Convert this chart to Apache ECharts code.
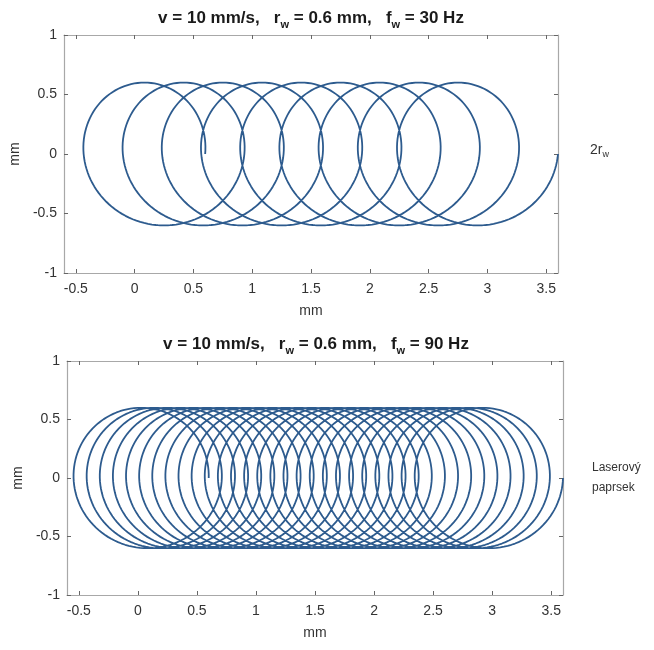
<!DOCTYPE html>
<html>
<head>
<meta charset="utf-8">
<script src="https://cdn.jsdelivr.net/npm/echarts@6/dist/echarts.min.js"></script>
<style>html,body{margin:0;padding:0;background:#fff}#c{width:654px;height:650px}</style>
</head>
<body>
<div id="c"></div>
<script>
// Wobble path parameters read from the titles / picture
const speeds = [10, 10];          // v, mm/s
const radii = [0.6, 0.6];         // r_w, mm
const freqs = [30, 90];           // f_w, Hz
const durations = [0.3, 0.3];     // s (path runs from x=0.6 to x=3.6)
const xTicks = [-0.5, 0, 0.5, 1, 1.5, 2, 2.5, 3, 3.5];
const yTicks = [-1, -0.5, 0, 0.5, 1];
const sideLabels = ['2r{sub|w}', 'Laserový\npaprsek'];

function path(i) {
  const v = speeds[i], r = radii[i], f = freqs[i], T = durations[i];
  const n = Math.round(T * f * 240);
  const pts = [];
  for (let k = 0; k <= n; k++) {
    const t = T * k / n;
    const a = 2 * Math.PI * f * t;
    pts.push([v * t + r * Math.cos(a), r * Math.sin(a)]);
  }
  return pts;
}

const grids = [
  {left: 62, top: 35, width: 496, height: 238},
  {left: 67, top: 361, width: 496, height: 234}
];
const axisCol = '#a8a8a8';
const labCol = '#333';
const font = 'Liberation Sans, Arial, sans-serif';

const xAxes = [], yAxes = [], series = [], titles = [];
grids.forEach((g, i) => {
  xAxes.push({
    gridIndex: i, type: 'value', min: -0.6, max: 3.6, position: 'bottom',
    name: 'mm', nameLocation: 'middle', nameGap: 31,
    nameTextStyle: {color: labCol, fontSize: 14, fontFamily: font},
    axisLine: {show: true, onZero: false, lineStyle: {color: axisCol, width: 1.2}},
    axisTick: {show: true, inside: true, length: 4, customValues: xTicks, lineStyle: {color: '#666'}},
    axisLabel: {customValues: xTicks, color: labCol, fontSize: 14, fontFamily: font, margin: 9,
      formatter: v => String(v)},
    splitLine: {show: false}
  });
  xAxes.push({
    gridIndex: i, type: 'value', min: -0.6, max: 3.6, position: 'top',
    axisLine: {show: true, onZero: false, lineStyle: {color: axisCol, width: 1.2}},
    axisTick: {show: true, inside: true, length: 4, customValues: xTicks, lineStyle: {color: '#666'}},
    axisLabel: {show: false}, splitLine: {show: false}
  });
  yAxes.push({
    gridIndex: i, type: 'value', min: -1, max: 1, interval: 0.5, position: 'left',
    name: 'mm', nameLocation: 'middle', nameGap: 37, nameRotate: 90,
    nameTextStyle: {color: labCol, fontSize: 14, fontFamily: font},
    axisLine: {show: true, onZero: false, lineStyle: {color: axisCol, width: 1.2}},
    axisTick: {show: true, inside: true, length: 4, customValues: yTicks, lineStyle: {color: '#666'}},
    axisLabel: {customValues: yTicks, color: labCol, fontSize: 14, fontFamily: font, margin: 7, formatter: v => String(v)},
    splitLine: {show: false}
  });
  yAxes.push({
    gridIndex: i, type: 'value', min: -1, max: 1, interval: 0.5, position: 'right',
    axisLine: {show: true, onZero: false, lineStyle: {color: axisCol, width: 1.2}},
    axisTick: {show: true, inside: true, length: 4, customValues: yTicks, lineStyle: {color: '#666'}},
    axisLabel: {show: false}, splitLine: {show: false}
  });
  series.push({
    type: 'line', xAxisIndex: 2 * i, yAxisIndex: 2 * i, data: path(i),
    showSymbol: false, smooth: false, animation: false,
    lineStyle: {color: '#2d5b8e', width: 1.8}
  });
  titles.push({
    text: 'v = ' + speeds[i] + ' mm/s,   r{sub|w} = ' + radii[i] + ' mm,   f{sub|w} = ' + freqs[i] + ' Hz',
    left: g.left + g.width / 2 - 4, textAlign: 'center', top: g.top - 34,
    textStyle: {
      color: '#1a1a1a', fontSize: 17, fontWeight: 'bold', fontFamily: font,
      rich: {sub: {fontSize: 11, fontWeight: 'bold', verticalAlign: 'bottom', padding: [13, 0, 0, 0], color: '#1a1a1a', fontFamily: font}}
    }
  });
});

const chart = echarts.init(document.getElementById('c'), null, {renderer: 'canvas'});
chart.setOption({
  backgroundColor: '#fff',
  animation: false,
  title: titles,
  grid: grids,
  xAxis: xAxes,
  yAxis: yAxes,
  series: series,
  graphic: [
    {type: 'text', left: 590, top: 143, style: {
      text: sideLabels[0], fill: '#333', font: '14px "Liberation Sans", Arial',
      rich: {sub: {fontSize: 9, padding: [9, 0, 0, 0], fill: '#333'}}
    }},
    {type: 'text', left: 592, top: 458, style: {
      text: sideLabels[1], fill: '#333', font: '12px "Liberation Sans", Arial', lineHeight: 20
    }}
  ]
});
</script>
</body>
</html>
